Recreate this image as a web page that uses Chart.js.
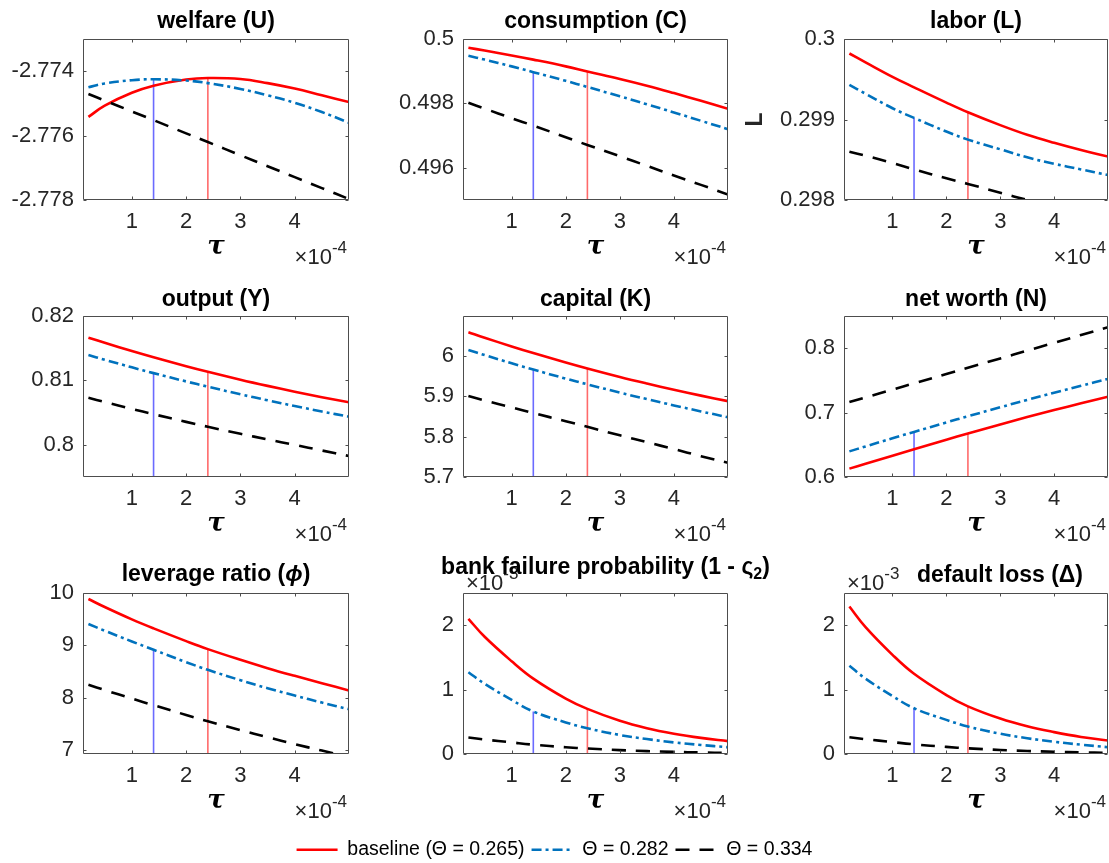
<!DOCTYPE html>
<html>
<head>
<meta charset="utf-8">
<script src="https://cdn.jsdelivr.net/npm/chart.js@4.4.1/dist/chart.umd.min.js"></script>
<style>
  html, body { margin: 0; padding: 0; background: #fff; overflow: hidden; }
  #fig { position: relative; width: 1109px; height: 863px; }
  #fig canvas { position: absolute; }
</style>
</head>
<body>
<div id="fig"></div>
<script>
// ========================================
// Data (tau in units of 1e-4)
// ========================================
const tau = [0.2, 0.5, 1.0, 1.4, 2.0, 2.4, 3.0, 3.5, 4.0, 4.5, 5.0];
const tauTicks = [1, 2, 3, 4];
const tauRange = [0.1, 5.0];
const optTau = [1.4, 2.4];   // optimum for Θ = 0.282 and for baseline

const legendLabels = ['baseline (Θ = 0.265)', 'Θ = 0.282', 'Θ = 0.334'];

const welfareBase = [-2.77542, -2.77507, -2.77467, -2.77445, -2.77426, -2.77421, -2.77424, -2.77437, -2.77454, -2.77475, -2.77496];
const welfareMid  = [-2.77450, -2.77438, -2.77428, -2.77425, -2.77429, -2.77437, -2.77455, -2.77475, -2.77498, -2.77527, -2.77560];
const welfareHigh = [-2.77471, -2.77491, -2.77525, -2.77552, -2.77593, -2.77620, -2.77661, -2.77695, -2.77729, -2.77763, -2.77797];
const welfareTicks = [-2.778, -2.776, -2.774];
const welfareRange = [-2.778, -2.773];

const consBase = [0.49973, 0.49964, 0.49949, 0.49936, 0.49915, 0.49899, 0.49876, 0.49855, 0.49832, 0.49808, 0.49783];
const consMid  = [0.49948, 0.49936, 0.49915, 0.49897, 0.49870, 0.49851, 0.49822, 0.49797, 0.49772, 0.49746, 0.49720];
const consHigh = [0.49802, 0.49784, 0.49754, 0.49731, 0.49695, 0.49671, 0.49636, 0.49606, 0.49576, 0.49547, 0.49517];
const consTicks = [0.496, 0.498, 0.5];
const consRange = [0.495, 0.5];

const laborBase = [0.29982, 0.29971, 0.29953, 0.29940, 0.29921, 0.29909, 0.29893, 0.29881, 0.29871, 0.29862, 0.29854];
const laborMid  = [0.29943, 0.29932, 0.29914, 0.29902, 0.29885, 0.29875, 0.29863, 0.29853, 0.29845, 0.29838, 0.29831];
const laborHigh = [0.29860, 0.29855, 0.29846, 0.29838, 0.29827, 0.29820, 0.29809, 0.29800, 0.29791, 0.29782, 0.29773];
const laborTicks = [0.298, 0.299, 0.3];
const laborRange = [0.298, 0.3];

const outputBase = [0.81663, 0.81583, 0.81456, 0.81359, 0.81221, 0.81134, 0.81011, 0.80915, 0.80824, 0.80739, 0.80660];
const outputMid  = [0.81394, 0.81321, 0.81203, 0.81113, 0.80984, 0.80902, 0.80784, 0.80691, 0.80602, 0.80517, 0.80436];
const outputHigh = [0.80731, 0.80664, 0.80557, 0.80475, 0.80356, 0.80280, 0.80171, 0.80084, 0.79998, 0.79912, 0.79826];
const outputTicks = [0.8, 0.81, 0.82];
const outputRange = [0.795, 0.82];

const capitalBase = [6.0578, 6.0443, 6.0228, 6.0064, 5.9830, 5.9682, 5.9472, 5.9310, 5.9157, 5.9012, 5.8875];
const capitalMid  = [6.0140, 6.0014, 5.9811, 5.9655, 5.9432, 5.9290, 5.9086, 5.8925, 5.8770, 5.8621, 5.8477];
const capitalHigh = [5.9000, 5.8890, 5.8720, 5.8580, 5.8380, 5.8240, 5.8030, 5.7860, 5.7690, 5.7515, 5.7350];
const capitalTicks = [5.7, 5.8, 5.9, 6];
const capitalRange = [5.7, 6.098];

const worthBase = [0.6130, 0.6206, 0.6331, 0.6430, 0.6578, 0.6676, 0.6817, 0.6930, 0.7039, 0.7144, 0.7246];
const worthMid  = [0.6398, 0.6475, 0.6601, 0.6700, 0.6847, 0.6943, 0.7083, 0.7197, 0.7308, 0.7417, 0.7523];
const worthHigh = [0.7163, 0.7236, 0.7357, 0.7454, 0.7599, 0.7696, 0.7841, 0.7962, 0.8083, 0.8205, 0.8326];
const worthTicks = [0.6, 0.7, 0.8];
const worthRange = [0.6, 0.85];

const leverageBase = [9.885, 9.732, 9.496, 9.324, 9.081, 8.928, 8.724, 8.564, 8.417, 8.277, 8.137];
const leverageMid  = [9.407, 9.279, 9.075, 8.915, 8.679, 8.532, 8.334, 8.181, 8.041, 7.907, 7.779];
const leverageHigh = [8.245, 8.146, 7.983, 7.856, 7.670, 7.550, 7.379, 7.244, 7.114, 6.989, 6.869];
const leverageTicks = [7, 8, 9, 10];
const leverageRange = [6.924, 10];

// bank failure probability and default loss in units of 1e-3
const failBase = [2.10, 1.82, 1.44, 1.17, 0.86, 0.70, 0.515, 0.40, 0.315, 0.25, 0.20];
const failMid  = [1.27, 1.09, 0.84, 0.66, 0.49, 0.40, 0.295, 0.232, 0.18, 0.14, 0.105];
const failHigh = [0.255, 0.225, 0.18, 0.145, 0.105, 0.085, 0.06, 0.045, 0.033, 0.024, 0.017];
const failTicks = [0, 1, 2];
const failRange = [0, 2.5];

const lossBase = [2.29, 1.97, 1.54, 1.245, 0.915, 0.74, 0.55, 0.43, 0.34, 0.265, 0.21];
const lossMid  = [1.37, 1.17, 0.90, 0.71, 0.53, 0.426, 0.315, 0.245, 0.19, 0.145, 0.105];
const lossHigh = [0.26, 0.23, 0.185, 0.15, 0.11, 0.088, 0.062, 0.047, 0.035, 0.025, 0.018];
const lossTicks = [0, 1, 2];
const lossRange = [0, 2.5];

// ========================================
// Style
// ========================================
const family = "'Liberation Sans', Arial, Helvetica, sans-serif";
Chart.defaults.font.family = family;
Chart.defaults.font.size = 22;
Chart.defaults.color = '#262626';
Chart.defaults.animation = false;

const colors = {
    base: '#ff0000',
    mid: '#0072bd',
    high: '#000000',
    baseMark: 'rgba(255, 80, 80, 0.85)',
    midMark: 'rgba(70, 70, 255, 0.8)',
    axis: '#4d4d4d'
};
const dashes = { mid: [10, 4, 3, 4], high: [14, 10] };
const lineW = 2.6;

// canvas boxes: x0/w of canvas, l/r of plot area (page px)
const colBox = [
    { x0: 0, w: 450, l: 83, r: 349 },
    { x0: 370, w: 450, l: 463, r: 728 },
    { x0: 740, w: 369, l: 844, r: 1108 }
];
const rowBox = [{ y0: 0 }, { y0: 277 }, { y0: 554 }];
const panelH = 277;
const plotTop = 39;

const panels = [
    { title: [{ t: 'welfare (U)' }], base: welfareBase, mid: welfareMid, high: welfareHigh, ticks: welfareTicks, range: welfareRange },
    { title: [{ t: 'consumption (C)' }], base: consBase, mid: consMid, high: consHigh, ticks: consTicks, range: consRange },
    { title: [{ t: 'labor (L)' }], base: laborBase, mid: laborMid, high: laborHigh, ticks: laborTicks, range: laborRange, yLabel: 'L' },
    { title: [{ t: 'output (Y)' }], base: outputBase, mid: outputMid, high: outputHigh, ticks: outputTicks, range: outputRange, dy: 1 },
    { title: [{ t: 'capital (K)' }], base: capitalBase, mid: capitalMid, high: capitalHigh, ticks: capitalTicks, range: capitalRange, dy: 1 },
    { title: [{ t: 'net worth (N)' }], base: worthBase, mid: worthMid, high: worthHigh, ticks: worthTicks, range: worthRange, dy: 1 },
    { title: [{ t: 'leverage ratio (' }, { t: 'ϕ', italic: true }, { t: ')' }], base: leverageBase, mid: leverageMid, high: leverageHigh, ticks: leverageTicks, range: leverageRange, dy: -1 },
    { title: [{ t: 'bank failure probability (1 - ς' }, { t: '2', sub: true }, { t: ')' }], base: failBase, mid: failMid, high: failHigh, ticks: failTicks, range: failRange, yExp: '-3', dx: 10, dy: -8 },
    { title: [{ t: 'default loss (Δ)' }], base: lossBase, mid: lossMid, high: lossHigh, ticks: lossTicks, range: lossRange, yExp: '-3', dx: 24, dy: 0 }
];

// ========================================
// MATLAB-like decorations: box, inner ticks, title, exponents
// ========================================
function drawExp(ctx, exp, x, y, alignRight) {
    ctx.font = '22px ' + family;
    const w1 = ctx.measureText('×10').width;
    ctx.font = '17px ' + family;
    const w2 = ctx.measureText(exp).width;
    const x0 = alignRight ? x - w1 - w2 : x;
    ctx.textAlign = 'left';
    ctx.textBaseline = 'middle';
    ctx.fillStyle = '#262626';
    ctx.font = '22px ' + family;
    ctx.fillText('×10', x0, y);
    ctx.font = '17px ' + family;
    ctx.fillText(exp, x0 + w1, y - 10);
}

function drawTitle(ctx, segs, cx, cy) {
    const fonts = segs.map(s => (s.italic ? 'italic ' : '') + 'bold ' + (s.sub ? 16 : 23) + 'px ' + family);
    const widths = segs.map((s, i) => { ctx.font = fonts[i]; return ctx.measureText(s.t).width; });
    let x = cx - widths.reduce((a, b) => a + b, 0) / 2;
    ctx.fillStyle = '#000';
    ctx.textAlign = 'left';
    ctx.textBaseline = 'middle';
    segs.forEach((s, i) => {
        ctx.font = fonts[i];
        ctx.fillText(s.t, x, cy + (s.sub ? 7 : 0));
        x += widths[i];
    });
}

const decor = {
    id: 'decor',
    afterDatasetsDraw(chart) {
        const { ctx, chartArea: a, scales } = chart;
        const L = Math.round(a.left) + 0.5, R = Math.round(a.right) - 0.5;
        const T = Math.round(a.top) + 0.5, B = Math.round(a.bottom) - 0.5;
        const tl = 3;
        ctx.save();
        ctx.strokeStyle = colors.axis;
        ctx.lineWidth = 1;
        ctx.beginPath();
        ctx.rect(L, T, R - L, B - T);
        scales.x.ticks.forEach(t => {
            const px = Math.round(scales.x.getPixelForValue(t.value)) + 0.5;
            ctx.moveTo(px, B); ctx.lineTo(px, B - tl);
            ctx.moveTo(px, T); ctx.lineTo(px, T + tl);
        });
        scales.y.ticks.forEach(t => {
            const py = Math.round(scales.y.getPixelForValue(t.value)) + 0.5;
            ctx.moveTo(L, py); ctx.lineTo(L + tl, py);
            ctx.moveTo(R, py); ctx.lineTo(R - tl, py);
        });
        ctx.stroke();
        ctx.restore();
    },
    afterDraw(chart, args, opts) {
        const { ctx, chartArea: a } = chart;
        ctx.save();
        drawExp(ctx, '-4', a.right - 2, a.bottom + 58, true);
        if (opts.yExp) drawExp(ctx, opts.yExp, a.left + 3, a.top - 9, false);
        drawTitle(ctx, opts.title, (a.left + a.right) / 2 + (opts.dx || 0), a.top - 17 + (opts.dy || 0));
        ctx.restore();
    }
};

function curve(vals, color, dash, order) {
    return {
        data: tau.map((t, k) => ({ x: t, y: vals[k] })),
        borderColor: color,
        borderWidth: lineW,
        borderDash: dash,
        pointRadius: 0,
        tension: 0.4,
        fill: false,
        clip: 0,
        order: order
    };
}

function marker(t, y0, y1, color) {
    return {
        data: [{ x: t, y: y0 }, { x: t, y: y1 }],
        borderColor: color,
        borderWidth: 1.6,
        pointRadius: 0,
        fill: false,
        clip: 0,
        order: 3
    };
}

const fmt = v => String(Number(v.toFixed(6)));
const fig = document.getElementById('fig');
const kMid = tau.indexOf(optTau[0]);
const kBase = tau.indexOf(optTau[1]);

// ========================================
// Panels
// ========================================
panels.forEach((p, i) => {
    const col = colBox[i % 3];
    const row = rowBox[Math.floor(i / 3)];
    const cv = document.createElement('canvas');
    cv.width = col.w;
    cv.height = panelH;
    cv.style.left = col.x0 + 'px';
    cv.style.top = row.y0 + 'px';
    cv.style.width = col.w + 'px';
    cv.style.height = panelH + 'px';
    fig.appendChild(cv);

    new Chart(cv, {
        type: 'line',
        data: {
            datasets: [
                curve(p.base, colors.base, [], 2),
                curve(p.mid, colors.mid, dashes.mid, 1),
                curve(p.high, colors.high, dashes.high, 0),
                marker(optTau[0], p.range[0], p.mid[kMid], colors.midMark),
                marker(optTau[1], p.range[0], p.base[kBase], colors.baseMark)
            ]
        },
        options: {
            responsive: false,
            animation: false,
            devicePixelRatio: 1,
            layout: {
                padding: { left: 0, top: plotTop, right: col.w - (col.r - col.x0), bottom: 13 }
            },
            scales: {
                x: {
                    type: 'linear',
                    min: tauRange[0],
                    max: tauRange[1],
                    afterBuildTicks: ax => { ax.ticks = tauTicks.map(v => ({ value: v })); },
                    afterFit: ax => { ax.height = 64; },
                    grid: { display: false, drawTicks: false },
                    border: { display: false },
                    ticks: { padding: 9, maxRotation: 0, callback: v => fmt(v) },
                    title: {
                        display: true,
                        text: 'τ',
                        color: '#000',
                        font: { family: "'DejaVu Serif', 'Liberation Serif', serif", style: 'italic', weight: 'bold', size: 26 },
                        padding: { top: 0, bottom: 1 }
                    }
                },
                y: {
                    type: 'linear',
                    min: p.range[0],
                    max: p.range[1],
                    afterBuildTicks: ax => { ax.ticks = p.ticks.map(v => ({ value: v })); },
                    afterFit: ax => { ax.width = col.l - col.x0; },
                    grid: { display: false, drawTicks: false },
                    border: { display: false },
                    ticks: { padding: 9, callback: v => fmt(v) },
                    title: {
                        display: !!p.yLabel,
                        text: p.yLabel || '',
                        color: '#262626',
                        font: { weight: 'bold', size: 23 },
                        padding: { top: 2, bottom: 0 }
                    }
                }
            },
            plugins: {
                legend: { display: false },
                tooltip: { enabled: false },
                decor: { title: p.title, yExp: p.yExp, dx: p.dx, dy: p.dy }
            }
        },
        plugins: [decor]
    });
});

// ========================================
// Shared legend
// ========================================
const legendStyles = [
    { color: colors.base, dash: [] },
    { color: colors.mid, dash: dashes.mid },
    { color: colors.high, dash: dashes.high }
];
const lc = document.createElement('canvas');
lc.width = 1109;
lc.height = 60;
lc.style.left = '0px';
lc.style.top = '833px';
lc.style.width = '1109px';
lc.style.height = '60px';
fig.appendChild(lc);

new Chart(lc, {
    type: 'line',
    data: {
        datasets: legendLabels.map((lab, k) => ({
            label: lab,
            data: [],
            borderColor: legendStyles[k].color,
            borderDash: legendStyles[k].dash,
            borderWidth: lineW
        }))
    },
    options: {
        responsive: false,
        animation: false,
        devicePixelRatio: 1,
        layout: { padding: 0 },
        scales: { x: { display: false }, y: { display: false } },
        plugins: {
            tooltip: { enabled: false },
            legend: {
                display: true,
                position: 'top',
                labels: {
                    usePointStyle: true,
                    pointStyleWidth: 41,
                    padding: 7,
                    color: '#000',
                    font: { size: 19.5 },
                    generateLabels: () => legendLabels.map((lab, k) => ({
                        text: lab,
                        fillStyle: legendStyles[k].color,
                        strokeStyle: legendStyles[k].color,
                        fontColor: '#000',
                        lineWidth: lineW,
                        lineDash: legendStyles[k].dash,
                        pointStyle: 'line',
                        hidden: false,
                        datasetIndex: k
                    }))
                }
            }
        }
    }
});
</script>
</body>
</html>
